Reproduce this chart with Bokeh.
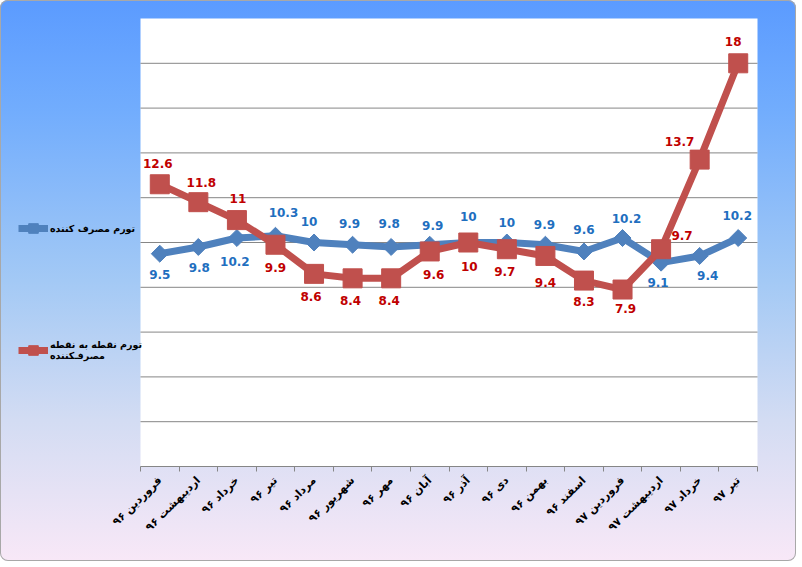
import numpy as np
from bokeh.plotting import figure
from bokeh.models import (Range1d, FixedTicker, Legend, LegendItem,
                          ColumnDataSource, CustomJSTickFormatter)
from bokeh.core.properties import value
from bokeh.embed import file_html
from bokeh.resources import INLINE

# ---------------- data ----------------
months = ["فروردین ۹۶", "اردیبهشت ۹۶", "خرداد ۹۶", "تیر ۹۶", "مرداد ۹۶",
          "شهریور ۹۶", "مهر ۹۶", "آبان ۹۶", "آذر ۹۶", "دی ۹۶", "بهمن ۹۶",
          "اسفند ۹۶", "فروردین ۹۷", "اردیبهشت ۹۷", "خرداد ۹۷", "تیر ۹۷"]
cpi = [9.5, 9.8, 10.2, 10.3, 10.0, 9.9, 9.8, 9.9, 10.0, 10.0, 9.9, 9.6,
       10.2, 9.1, 9.4, 10.2]
p2p = [12.6, 11.8, 11.0, 9.9, 8.6, 8.4, 8.4, 9.6, 10.0, 9.7, 9.4, 8.3,
       7.9, 9.7, 13.7, 18.0]
series_names = ["تورم مصرف کننده", "تورم نقطه به نقطه\nمصرفـکننده"]
y_max = 20
grid_levels = [2, 4, 6, 8, 10, 12, 14, 16, 18]

# ---------------- label placement (style, screen px) ----------------
cpi_dx = [0, 1, -2, 8, -5, -3, -2, 3, 0, 0, -1, 0, 4, -3, 8, -1]
cpi_dy = [21, 21, 23, -23, -21, -21, -23, -19, -26, -20, -20, -22, -20, 20, 20, -23]
p2p_dx = [-2, 3, 1, 0, -3, -2, -2, 4, 1, -2, 0, 0, 3, 21, -20, -5]
p2p_dy = [-21, -20, -22, 23, 23, 22, 22, 23, 24, 22, 27, 21, 19, -14, -18, -22]

BLUE = "#4F81BD"
RED = "#C0504D"
BLUE_TXT = "#1F6FBF"
RED_TXT = "#C00000"
GRID = "#868686"

W, H = 796, 561
PLOT_L, PLOT_R, PLOT_T, PLOT_B = 140, 757, 18, 466   # plot-area box in pixels

n = len(months)
xs = np.arange(n) + 0.5
px_x = (PLOT_R - PLOT_L) / n          # pixels per category
px_y = (PLOT_B - PLOT_T) / y_max      # pixels per unit

src_cpi = ColumnDataSource(dict(x=xs, y=cpi, t=[f"{v:g}" for v in cpi],
                                dx=cpi_dx, dy=cpi_dy))
src_p2p = ColumnDataSource(dict(x=xs, y=p2p, t=[f"{v:g}" for v in p2p],
                                dx=p2p_dx, dy=p2p_dy))

p = figure(width=W, height=H,
           x_range=Range1d(-PLOT_L / px_x, n + (W - PLOT_R) / px_x),
           y_range=Range1d(0, PLOT_B / px_y),
           output_backend="svg", toolbar_location=None,
           min_border_left=0, min_border_right=0, min_border_top=0,
           min_border_bottom=H - PLOT_B, background_fill_color=None,
           border_fill_color=None, outline_line_color=None)

p.styles = {
    "background": "linear-gradient(to bottom, #5b9bff 0%, #72adfd 20%, #a3c9f5 50%, #d3dcf3 75%, #f8e8f7 100%)",
    "border-radius": "8px",
    "box-shadow": "inset 0 0 0 1px #a8a8a8",
}

p.yaxis.visible = False
p.grid.visible = False

# white plot area and horizontal gridlines
p.quad(left=0, right=n, bottom=0, top=y_max, fill_color="white", line_color=None)
p.segment(x0=0, x1=n, y0=grid_levels, y1=grid_levels, line_color=GRID, line_width=1)

ax = p.xaxis[0]
ax.bounds = (0, n)
ax.ticker = FixedTicker(ticks=list(xs), minor_ticks=list(range(n + 1)))
ax.formatter = CustomJSTickFormatter(args=dict(labels=months),
                                     code="return labels[Math.floor(tick)];")
ax.major_tick_line_color = None
ax.minor_tick_in = 0
ax.minor_tick_out = 5
ax.minor_tick_line_color = GRID
ax.axis_line_color = GRID
ax.major_label_orientation = np.pi / 4
ax.major_label_standoff = 6
ax.major_label_text_font = "DejaVu Sans"
ax.major_label_text_font_style = "bold"
ax.major_label_text_font_size = "11px"
ax.major_label_text_color = "black"

bl = p.line("x", "y", source=src_cpi, line_width=7, line_color=BLUE)
bp = p.scatter("x", "y", source=src_cpi, marker="square", angle=np.pi / 4,
               size=12, fill_color=BLUE, line_color=BLUE)
rl = p.line("x", "y", source=src_p2p, line_width=7, line_color=RED)
rp = p.scatter("x", "y", source=src_p2p, marker="square", size=19,
               fill_color=RED, line_color=RED)

for src, col in ((src_cpi, BLUE_TXT), (src_p2p, RED_TXT)):
    p.text("x", "y", text="t", source=src, x_offset="dx", y_offset="dy",
           text_font=value("DejaVu Sans"), text_font_style="bold",
           text_font_size="12px", text_color=col, text_align="center",
           text_baseline="middle")

legend = Legend(items=[LegendItem(label=series_names[0], renderers=[bl, bp]),
                       LegendItem(label=series_names[1], renderers=[rl, rp])],
                location=(18, 104), spacing=98, padding=0, margin=0,
                border_line_color=None, background_fill_alpha=0,
                glyph_width=30, glyph_height=24, label_standoff=2,
                label_text_font="DejaVu Sans", label_text_font_style="bold",
                label_text_font_size="9.5px", label_text_color="black")
p.add_layout(legend)

open("out.html", "w").write(file_html(p, INLINE))
